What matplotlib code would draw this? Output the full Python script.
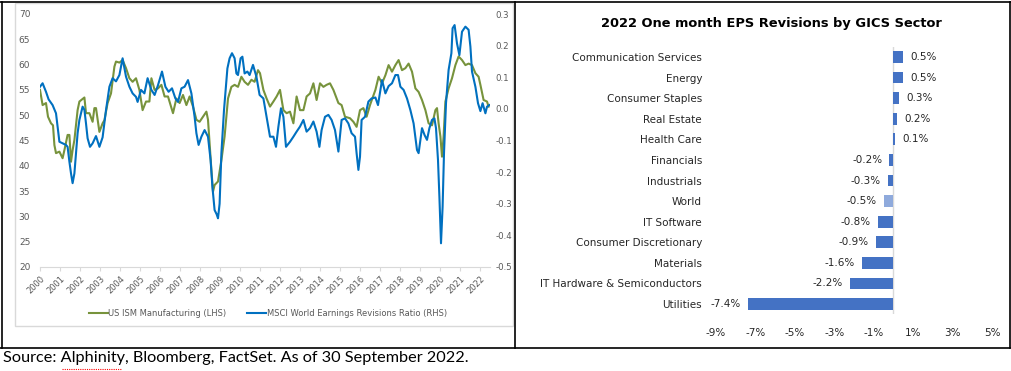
import matplotlib
matplotlib.use("Agg")
import matplotlib.pyplot as plt
from matplotlib.lines import Line2D
from matplotlib.patches import Rectangle
import numpy as np

# --- left chart: US ISM Manufacturing (LHS) ---
ism_t = [2000.00, 2000.13, 2000.30, 2000.40, 2000.55, 2000.65, 2000.72, 2000.80, 2000.97, 2001.13,
         2001.22, 2001.38, 2001.47, 2001.55, 2001.63, 2001.72, 2001.88, 2001.97, 2002.22, 2002.30,
         2002.47, 2002.63, 2002.72, 2002.80, 2002.97, 2003.13, 2003.22, 2003.38, 2003.55, 2003.72,
         2003.80, 2003.97, 2004.13, 2004.30, 2004.47, 2004.63, 2004.80, 2004.97, 2005.13, 2005.30,
         2005.47, 2005.57, 2005.73, 2005.90, 2006.07, 2006.23, 2006.40, 2006.65, 2006.82, 2006.98,
         2007.15, 2007.32, 2007.48, 2007.65, 2007.82, 2007.98, 2008.15, 2008.32, 2008.40, 2008.48,
         2008.57, 2008.65, 2008.73, 2008.90, 2009.07, 2009.23, 2009.40, 2009.57, 2009.73, 2009.90,
         2010.07, 2010.23, 2010.40, 2010.57, 2010.73, 2010.90, 2011.00, 2011.17, 2011.33, 2011.50,
         2011.67, 2011.83, 2012.00, 2012.17, 2012.33, 2012.50, 2012.67, 2012.83, 2013.00, 2013.17,
         2013.33, 2013.50, 2013.67, 2013.83, 2014.00, 2014.17, 2014.33, 2014.50, 2014.67, 2014.92,
         2015.08, 2015.25, 2015.50, 2015.67, 2015.83, 2016.00, 2016.17, 2016.33, 2016.50, 2016.77,
         2016.93, 2017.10, 2017.27, 2017.43, 2017.60, 2017.77, 2017.93, 2018.10, 2018.27, 2018.43,
         2018.60, 2018.77, 2018.93, 2019.10, 2019.27, 2019.43, 2019.60, 2019.77, 2019.85, 2019.93,
         2020.02, 2020.10, 2020.18, 2020.27, 2020.43, 2020.60, 2020.77, 2020.93, 2021.10, 2021.27,
         2021.43, 2021.60, 2021.77, 2021.93, 2022.02, 2022.18, 2022.35, 2022.43]
ism_v = [55.0, 52.0, 52.4, 49.7, 48.4, 48.0, 44.1, 42.5, 42.8, 41.5,
         43.1, 46.1, 46.1, 40.8, 43.1, 45.1, 51.0, 52.7, 53.5, 50.4,
         50.4, 48.7, 51.4, 51.4, 46.7, 48.4, 49.0, 52.4, 54.3, 59.6,
         60.6, 60.4, 60.9, 59.3, 57.3, 56.6, 57.3, 55.0, 51.0, 52.7,
         52.7, 57.3, 55.0, 55.3, 56.0, 53.7, 53.7, 50.4, 53.3, 52.4,
         54.0, 52.0, 53.7, 51.7, 49.1, 48.7, 49.7, 50.7, 49.1, 44.4,
         39.2, 34.9, 36.2, 36.9, 41.1, 45.8, 53.3, 55.6, 56.0, 55.6,
         57.6, 56.6, 56.0, 57.0, 56.6, 58.9, 58.3, 55.0, 53.3, 51.7,
         52.7, 53.7, 55.0, 51.0, 50.4, 50.7, 48.4, 53.7, 51.0, 51.0,
         53.7, 54.3, 56.3, 53.0, 56.3, 55.6, 56.0, 56.3, 55.0, 52.4,
         52.0, 49.7, 49.4, 48.7, 47.7, 51.0, 51.4, 49.7, 52.0, 55.0,
         57.6, 56.3, 57.9, 59.9, 58.6, 59.9, 60.9, 58.9, 59.3, 60.2,
         58.6, 55.3, 54.6, 53.0, 51.0, 48.4, 48.0, 51.0, 51.4, 48.4,
         45.8, 41.8, 45.8, 52.7, 55.3, 57.3, 59.9, 61.6, 60.9, 59.9,
         60.2, 59.9, 58.3, 57.6, 56.0, 53.0, 52.7, 51.7]

# --- left chart: MSCI World Earnings Revisions Ratio (RHS) ---
rev_t = [2000.00, 2000.13, 2000.30, 2000.43, 2000.63, 2000.80, 2000.88, 2000.97, 2001.13, 2001.30,
         2001.38, 2001.47, 2001.55, 2001.63, 2001.72, 2001.80, 2001.88, 2001.97, 2002.13, 2002.22,
         2002.30, 2002.38, 2002.50, 2002.63, 2002.80, 2002.97, 2003.13, 2003.30, 2003.47, 2003.63,
         2003.80, 2003.97, 2004.13, 2004.30, 2004.47, 2004.63, 2004.80, 2004.88, 2005.05, 2005.22,
         2005.38, 2005.57, 2005.73, 2005.90, 2006.10, 2006.27, 2006.43, 2006.60, 2006.77, 2006.90,
         2007.07, 2007.23, 2007.40, 2007.57, 2007.73, 2007.82, 2007.93, 2008.07, 2008.23, 2008.40,
         2008.53, 2008.62, 2008.73, 2008.83, 2008.90, 2008.98, 2009.07, 2009.20, 2009.37, 2009.48,
         2009.60, 2009.73, 2009.82, 2009.90, 2010.03, 2010.12, 2010.23, 2010.37, 2010.48, 2010.65,
         2010.82, 2010.98, 2011.17, 2011.33, 2011.50, 2011.67, 2011.80, 2011.92, 2012.05, 2012.17,
         2012.30, 2012.50, 2012.67, 2012.83, 2013.00, 2013.17, 2013.33, 2013.50, 2013.67, 2013.83,
         2013.97, 2014.08, 2014.25, 2014.42, 2014.58, 2014.75, 2014.92, 2015.08, 2015.25, 2015.42,
         2015.58, 2015.75, 2015.83, 2015.92, 2016.00, 2016.08, 2016.25, 2016.42, 2016.58, 2016.77,
         2016.90, 2017.10, 2017.27, 2017.43, 2017.60, 2017.77, 2017.90, 2018.02, 2018.18, 2018.35,
         2018.52, 2018.68, 2018.85, 2018.93, 2019.10, 2019.23, 2019.35, 2019.47, 2019.60, 2019.72,
         2019.80, 2019.90, 2019.97, 2020.05, 2020.13, 2020.20, 2020.30, 2020.43, 2020.57, 2020.63,
         2020.73, 2020.85, 2020.97, 2021.10, 2021.27, 2021.43, 2021.52, 2021.60, 2021.77, 2021.90,
         2022.02, 2022.13, 2022.27, 2022.35, 2022.47]
rev_v = [0.070, 0.081, 0.054, 0.030, 0.012, -0.014, -0.056, -0.104, -0.109, -0.114,
         -0.120, -0.167, -0.204, -0.235, -0.204, -0.140, -0.077, -0.035, 0.007, -0.003,
         -0.046, -0.093, -0.120, -0.109, -0.086, -0.120, -0.090, -0.004, 0.070, 0.097,
         0.087, 0.107, 0.160, 0.102, 0.070, 0.049, 0.038, 0.022, 0.060, 0.049,
         0.097, 0.060, 0.044, 0.075, 0.118, 0.070, 0.054, 0.065, 0.033, 0.022,
         0.065, 0.070, 0.091, 0.049, -0.025, -0.077, -0.114, -0.088, -0.067, -0.088,
         -0.162, -0.246, -0.320, -0.333, -0.346, -0.300, -0.140, -0.004, 0.128, 0.160,
         0.176, 0.160, 0.112, 0.107, 0.160, 0.165, 0.112, 0.118, 0.107, 0.139,
         0.102, 0.044, 0.033, -0.025, -0.088, -0.088, -0.120, -0.056, 0.002, -0.025,
         -0.120, -0.104, -0.088, -0.072, -0.056, -0.035, -0.072, -0.061, -0.040, -0.072,
         -0.120, -0.067, -0.025, -0.019, -0.035, -0.067, -0.135, -0.035, -0.030, -0.046,
         -0.077, -0.088, -0.140, -0.193, -0.151, -0.035, -0.025, 0.023, 0.033, 0.036,
         0.012, 0.091, 0.049, 0.072, 0.081, 0.107, 0.107, 0.070, 0.060, 0.033,
         -0.004, -0.046, -0.130, -0.140, -0.061, -0.083, -0.098, -0.061, -0.035, -0.030,
         -0.061, -0.162, -0.278, -0.425, -0.310, -0.140, 0.018, 0.123, 0.176, 0.255,
         0.265, 0.207, 0.170, 0.244, 0.260, 0.250, 0.197, 0.118, 0.070, 0.018,
         -0.007, 0.018, -0.014, 0.007, 0.012]

years = list(range(2000, 2023))
lhs_ticks = [20, 25, 30, 35, 40, 45, 50, 55, 60, 65, 70]
rhs_ticks = [-0.5, -0.4, -0.3, -0.2, -0.1, 0.0, 0.1, 0.2, 0.3]

# --- right chart: one month EPS revisions (%) ---
sectors = ["Communication Services", "Energy", "Consumer Staples", "Real Estate", "Health Care",
           "Financials", "Industrials", "World", "IT Software", "Consumer Discretionary",
           "Materials", "IT Hardware & Semiconductors", "Utilities"]
revisions = [0.5, 0.5, 0.3, 0.2, 0.1, -0.2, -0.3, -0.5, -0.8, -0.9, -1.6, -2.2, -7.4]
pct_ticks = [-9, -7, -5, -3, -1, 1, 3, 5]

GREEN = "#77933C"
BLUE = "#0070C0"
BAR = "#4472C4"
BAR_WORLD = "#8FAADC"
GREY_TXT = "#595959"
AXIS = "#D9D9D9"

W, H = 1012, 371


def fx(px):
    return px / W


def fy(py):
    return 1 - py / H


fig = plt.figure(figsize=(W / 100, H / 100), dpi=100)

# ---------------- left: line chart ----------------
ax = fig.add_axes([fx(40), fy(267), fx(450), fy(14) - fy(267)])
ax2 = ax.twinx()
l1, = ax.plot(ism_t, ism_v, color=GREEN, lw=1.5)
l2, = ax2.plot(rev_t, rev_v, color=BLUE, lw=1.5)

ax.set_xlim(2000, 2022.5)
ax.set_ylim(20, 70)
ax2.set_ylim(-0.5, 0.3)

for s in ["top", "left", "right"]:
    ax.spines[s].set_visible(False)
for s in ax2.spines.values():
    s.set_visible(False)
ax.spines["bottom"].set_color(AXIS)

ax.set_xticks(years)
ax.set_xticklabels([str(y) for y in years], rotation=45, ha="right", va="top",
                   rotation_mode="anchor", fontsize=6, color=GREY_TXT)
ax.tick_params(axis="x", length=3, color=AXIS, pad=2)
ax.set_yticks(lhs_ticks)
ax.set_yticklabels([str(t) for t in lhs_ticks], fontsize=6.5, color=GREY_TXT)
ax.tick_params(axis="y", length=0, pad=7)
ax2.set_yticks(rhs_ticks)
ax2.set_yticklabels(["%.1f" % abs(t) if t == 0 else "%.1f" % t for t in rhs_ticks],
                    fontsize=6.2, color=GREY_TXT)
ax2.tick_params(axis="y", length=0, pad=4)

fig.legend([l1, l2], ["US ISM Manufacturing (LHS)", "MSCI World Earnings Revisions Ratio (RHS)"],
           loc="center", bbox_to_anchor=(fx(268), fy(313)), ncol=2, frameon=False,
           fontsize=6, handlelength=2.2, handletextpad=0.1, columnspacing=2.5,
           labelcolor=GREY_TXT)

# chart area frame
fig.add_artist(Rectangle((fx(15), fy(326)), fx(513) - fx(15), fy(3) - fy(326),
                         transform=fig.transFigure, fill=False, edgecolor=AXIS, lw=1))

# ---------------- right: bar chart ----------------
bx = fig.add_axes([fx(716), fy(314.3), fx(276), fy(46.7) - fy(314.3)])
pos = np.arange(len(sectors))
colors = [BAR_WORLD if s == "World" else BAR for s in sectors]
bx.barh(pos, revisions, height=0.57, color=colors, zorder=2)
bx.axvline(0, color=AXIS, lw=1, zorder=1)
bx.set_xlim(-9, 5)
bx.set_ylim(len(sectors) - 0.5, -0.5)
bx.set_xticks(pct_ticks)
bx.set_xticklabels(["%d%%" % t for t in pct_ticks], fontsize=7.5, color="#262626")
bx.set_yticks(pos)
bx.set_yticklabels(sectors, fontsize=7.5, color="#262626")
bx.tick_params(length=0)
bx.tick_params(axis="y", pad=10)
bx.tick_params(axis="x", pad=10)
for s in bx.spines.values():
    s.set_visible(False)
for i, v in enumerate(revisions):
    bx.annotate("%.1f%%" % v, (v, i), xytext=(5 if v >= 0 else -5, 0),
                textcoords="offset points", ha="left" if v >= 0 else "right",
                va="center", fontsize=7.5, color="#262626")

fig.text(fx(771), fy(23), "2022 One month EPS Revisions by GICS Sector",
         ha="center", va="center", fontsize=9.4, fontweight="bold", color="#000000")

# ---------------- table borders ----------------
def border(x0, y0, x1, y1):
    fig.add_artist(Line2D([fx(x0), fx(x1)], [fy(y0), fy(y1)], transform=fig.transFigure,
                          color="black", lw=1.2))


border(0, 2, W, 2)
border(2, 2, 2, 348)
border(515, 2, 515, 348)
border(1010, 2, 1010, 348)
border(0, 348, 1010, 348)

fig.text(fx(3), fy(358), "Source: Alphinity, Bloomberg, FactSet. As of 30 September 2022.",
         ha="left", va="center", fontsize=11.7, family="Lato", color="black")
fig.add_artist(Line2D([fx(62), fx(122)], [fy(369), fy(369)], transform=fig.transFigure,
                      color="red", lw=0.8, ls=(0, (1, 1))))

fig.savefig("out.png", dpi=100)
